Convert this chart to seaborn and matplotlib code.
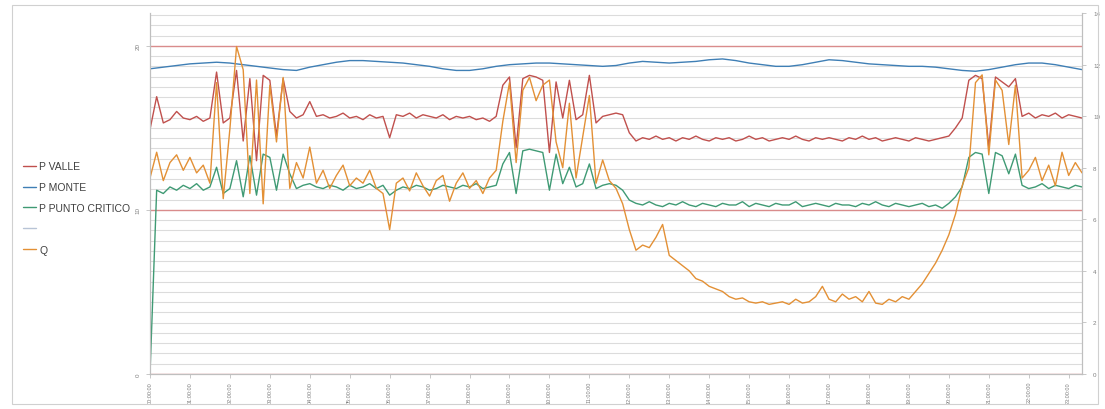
import numpy as np
import pandas as pd
import matplotlib
matplotlib.use("Agg")
import matplotlib.pyplot as plt
from matplotlib.ticker import MultipleLocator, FixedLocator
from matplotlib.lines import Line2D
from matplotlib.patches import Rectangle
import seaborn as sns

# ---- data: 10-minute samples over the day -------------------------------
step_minutes = 10

p_valle = [
    14.9, 16.9, 15.3, 15.5, 16.0, 15.6, 15.5, 15.7, 15.4, 15.6,
    18.4, 15.3, 15.6, 18.5, 14.2, 18.0, 13.0, 18.2, 17.9, 14.5,
    18.0, 16.0,
    15.6, 15.8, 16.6, 15.7, 15.8, 15.6, 15.7, 15.9, 15.6, 15.7,
    15.5, 15.8, 15.6, 15.7, 14.4, 15.8, 15.7, 15.9, 15.6, 15.8,
    15.7, 15.6, 15.8, 15.5, 15.7, 15.6, 15.7, 15.5, 15.6, 15.4,
    15.7,
    17.6, 18.1, 13.8, 18.0, 18.2, 18.1, 17.9, 13.5, 17.8,
    15.6, 17.9, 15.5, 15.8, 18.2, 15.3, 15.7, 15.8, 15.9, 15.8,
    14.7, 14.2, 14.4, 14.3, 14.5, 14.3, 14.4, 14.2, 14.4, 14.3,
    14.5, 14.3, 14.2, 14.4, 14.3, 14.4, 14.2, 14.3, 14.5, 14.3,
    14.4, 14.2, 14.3, 14.4, 14.3, 14.5, 14.3, 14.2, 14.4, 14.3,
    14.4, 14.3, 14.2, 14.4, 14.3, 14.5, 14.3, 14.4, 14.2, 14.3,
    14.4, 14.3, 14.2, 14.4, 14.3, 14.2, 14.3, 14.4, 14.5, 15.0,
    15.6, 17.9, 18.2, 18.0, 13.8, 18.1, 17.8, 17.5, 18.0,
    15.7, 15.9, 15.6, 15.8, 15.7, 15.9, 15.6, 15.8, 15.7, 15.6,
]

p_punto_critico = [
    0.0, 11.2, 11.0, 11.4, 11.2, 11.5, 11.3, 11.6, 11.2, 11.4,
    12.6, 11.0, 11.3, 13.0, 10.8, 13.3, 10.9, 13.4, 13.2, 11.2,
    13.4, 12.2,
    11.3, 11.5, 11.6, 11.4, 11.3, 11.5, 11.4, 11.2, 11.5, 11.3,
    11.4, 11.6, 11.3, 11.5, 10.9, 11.2, 11.4, 11.3, 11.5, 11.4,
    11.2, 11.3, 11.5, 11.4, 11.3, 11.5, 11.4, 11.6, 11.3, 11.4,
    11.5,
    12.8, 13.5, 11.0, 13.6, 13.7, 13.6, 13.5, 11.2, 13.4,
    11.6, 12.6, 11.4, 11.6, 12.8, 11.3, 11.5, 11.6, 11.5, 11.2,
    10.6, 10.4, 10.3, 10.5, 10.3, 10.2, 10.4, 10.3, 10.5, 10.3,
    10.2, 10.4, 10.3, 10.2, 10.4, 10.3, 10.3, 10.5, 10.2, 10.4,
    10.3, 10.2, 10.4, 10.3, 10.3, 10.5, 10.2, 10.3, 10.4, 10.3,
    10.2, 10.4, 10.3, 10.3, 10.2, 10.4, 10.3, 10.5, 10.3, 10.2,
    10.4, 10.3, 10.2, 10.3, 10.4, 10.2, 10.3, 10.1, 10.4, 10.8,
    11.4, 13.2, 13.5, 13.4, 11.0, 13.5, 13.3, 12.2, 13.4,
    11.5, 11.3, 11.4, 11.6, 11.3, 11.5, 11.4, 11.3, 11.5, 11.4,
]

q = [
    7.6, 8.6, 7.5, 8.2, 8.5, 7.9, 8.4, 7.8, 8.1, 7.4,
    11.3, 6.8, 9.5, 12.7, 11.8, 7.0, 11.4, 6.6, 11.2, 9.0,
    11.5, 7.2,
    8.2, 7.6, 8.8, 7.4, 7.9, 7.2, 7.7, 8.1, 7.3, 7.6,
    7.4, 7.9, 7.2, 7.0, 5.6, 7.4, 7.6, 7.1, 7.8, 7.3,
    6.9, 7.5, 7.7, 6.7, 7.4, 7.8, 7.2, 7.5, 7.0, 7.6,
    7.9,
    9.8, 11.3, 8.2, 11.0, 11.5, 10.6, 11.2, 11.4, 9.0,
    8.0, 10.5, 7.6, 9.2, 10.8, 7.4, 8.3, 7.5, 7.2, 6.6,
    5.6, 4.8, 5.0, 4.9, 5.3, 5.8, 4.6, 4.4, 4.2, 4.0,
    3.7, 3.6, 3.4, 3.3, 3.2, 3.0, 2.9, 2.95, 2.8, 2.75,
    2.8, 2.7, 2.75, 2.8, 2.7, 2.9, 2.75, 2.8, 3.0, 3.4,
    2.9, 2.8, 3.1, 2.9, 3.0, 2.8, 3.2, 2.75, 2.7, 2.9,
    2.8, 3.0, 2.9, 3.2, 3.5, 3.9, 4.3, 4.8, 5.4, 6.2,
    7.3, 8.0, 11.3, 11.6, 8.5, 11.4, 11.0, 8.9, 11.2,
    7.6, 7.9, 8.4, 7.5, 8.1, 7.3, 8.6, 7.7, 8.2, 7.8,
]

# upstream pressure logged every 20 minutes
monte_step_minutes = 20
p_monte = [
    18.6, 18.7, 18.8, 18.9, 18.95, 19.0, 18.95, 18.85, 18.75, 18.65,
    18.55, 18.5, 18.7, 18.85, 19.0, 19.1, 19.1, 19.05, 19.0, 18.95,
    18.85, 18.75, 18.6, 18.5, 18.5, 18.6, 18.75, 18.85, 18.9, 18.95,
    18.95, 18.9, 18.85, 18.8, 18.75, 18.8, 18.95, 19.05, 19.0, 18.95,
    19.0, 19.05, 19.15, 19.2, 19.1, 18.95, 18.85, 18.75, 18.75, 18.85,
    19.0, 19.15, 19.1, 19.0, 18.9, 18.85, 18.8, 18.75, 18.75, 18.7,
    18.6, 18.5, 18.45, 18.55, 18.7, 18.85, 18.95, 18.95, 18.85, 18.7,
    18.55,
]

hour_ticks = list(range(24))
hour_labels = [f"{h:02d}:00:00" for h in hour_ticks]
left_ticks = [0, 10, 20]
right_ticks = [0, 2, 4, 6, 8, 10, 12, 14]

series_names = ["P VALLE", "P MONTE", "P PUNTO CRITICO", "", "Q"]
series_colors = ["#c0504d", "#3f7fb5", "#3f9a74", "#b8c4d6", "#e39035"]

# ---- frames ---------------------------------------------------------------
hours = np.arange(len(p_valle)) * step_minutes / 60.0
df = pd.DataFrame({"ora": hours, "P VALLE": p_valle,
                   "P PUNTO CRITICO": p_punto_critico, "Q": q})
monte_hours = np.arange(len(p_monte)) * monte_step_minutes / 60.0
df_monte = pd.DataFrame({"ora": monte_hours, "P MONTE": p_monte})

sns.set_theme(style="white")
plt.rcParams["font.family"] = ["Liberation Sans", "DejaVu Sans"]

fig = plt.figure(figsize=(11.05, 4.10), dpi=100)
ax = fig.add_axes([150 / 1105, 1 - 375 / 410, (1082 - 150) / 1105, (375 - 14) / 410])
ax2 = ax.twinx()

lw = 1.0
sns.lineplot(data=df, x="ora", y="P VALLE", ax=ax, color=series_colors[0], lw=lw)
sns.lineplot(data=df_monte, x="ora", y="P MONTE", ax=ax, color=series_colors[1], lw=lw)
sns.lineplot(data=df, x="ora", y="P PUNTO CRITICO", ax=ax, color=series_colors[2], lw=lw)
sns.lineplot(data=df, x="ora", y="Q", ax=ax2, color=series_colors[4], lw=lw)

xmax = hours[-1]
for a in (ax, ax2):
    a.set_xlim(0, xmax)
    a.set_xlabel("")
    a.set_ylabel("")

ax.set_ylim(0, 22.0)
ax2.set_ylim(0, 14)

# gridlines: fine grey rows plus reddish major lines
ax.yaxis.set_major_locator(FixedLocator(left_ticks))
ax.yaxis.set_minor_locator(MultipleLocator(0.625))
ax.grid(which="minor", axis="y", color="#dcdcdc", lw=0.8)
ax.grid(which="major", axis="y", color="#d98c8c", lw=1.0)
ax.grid(which="both", axis="x", visible=False)
ax.set_axisbelow(True)
ax2.grid(False)

ax.set_xticks(hour_ticks)
ax.set_xticklabels(hour_labels, rotation=90, fontsize=4, color="#7f7f7f")
ax.set_yticks(left_ticks)
ax.set_yticklabels([str(v) for v in left_ticks], rotation=90, fontsize=4.5,
                   color="#7f7f7f", va="center")
ax2.set_yticks(right_ticks)
ax2.set_yticklabels([str(v) for v in right_ticks], fontsize=4.5, color="#7f7f7f")

ax.tick_params(axis="x", length=3, width=0.6, color="#bfbfbf", pad=2, bottom=True)
ax.tick_params(axis="y", which="major", length=3, width=0.6, color="#bfbfbf", pad=4, left=True)
ax.tick_params(axis="y", which="minor", length=0)
ax2.tick_params(axis="y", length=3, width=0.6, color="#bfbfbf", pad=5, right=True)

for a in (ax, ax2):
    for side in ("left", "right", "bottom"):
        a.spines[side].set_color("#bfbfbf")
        a.spines[side].set_linewidth(0.8)
    a.spines["top"].set_visible(False)

# legend at the left, outside the plotting area
handles = [Line2D([], [], color=c, lw=1.0) for c in series_colors]
fig.legend(handles, series_names, loc="center left",
           bbox_to_anchor=(0.012, 0.49), frameon=False, fontsize=7.5,
           handlelength=1.3, handletextpad=0.3, labelspacing=1.05,
           labelcolor="#404040")

# chart area border
fig.patches.append(Rectangle((12 / 1105, 5 / 410), (1098 - 12) / 1105, (404 - 5) / 410,
                             transform=fig.transFigure, fill=False,
                             ec="#d0d0d0", lw=0.8))

fig.savefig("out.png", dpi=100)
